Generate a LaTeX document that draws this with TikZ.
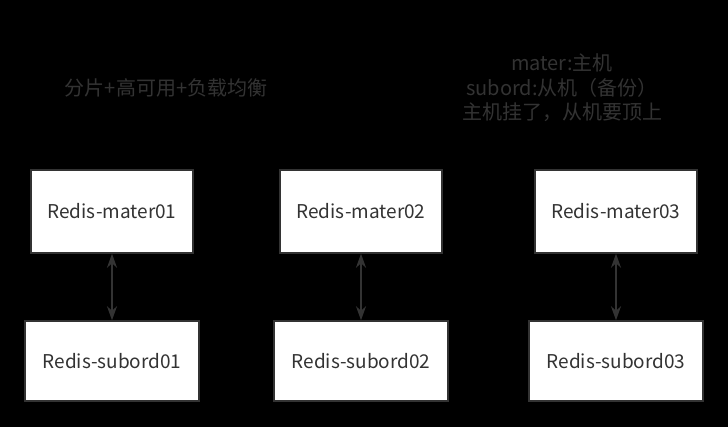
\documentclass[tikz,border=0pt]{standalone}
\usepackage{fontspec}
\setmainfont{Noto Sans CJK SC}
\usetikzlibrary{arrows.meta}
\definecolor{textgrau}{HTML}{333333}

\begin{document}
\begin{tikzpicture}[x=1pt, y=-1pt,
	box/.style={draw=textgrau, fill=white, line width=1.5pt, text=textgrau,
		font=\fontsize{19}{21}\selectfont, inner sep=0pt},
	master/.style={box, minimum width=162pt, minimum height=83pt},
	subord/.style={box, minimum width=174pt, minimum height=80pt},
	verbindung/.style={textgrau, line width=2pt,
		{Stealth[length=14pt,width=10pt]}-{Stealth[length=14pt,width=10pt]}},
	notiz/.style={text=textgrau, align=center, inner sep=0pt,
		font=\fontsize{20}{24.5}\selectfont}]
	
	% Hintergrund
	\fill[black] (0,0) rectangle (728,427);
	\useasboundingbox (0,0) rectangle (728,427);
	
	% Beschriftung
	\node[notiz] (titel) at (166,88) {分片+高可用+负载均衡};
	\node[notiz] (legende) at (562,88) {mater:主机\\subord:从机（备份）\\主机挂了，从机要顶上};
	
	% Master
	\node[master] (master01) at (112,211.5) {Redis-mater01};
	\node[master] (master02) at (361,211.5) {Redis-mater02};
	\node[master] (master03) at (616,211.5) {Redis-mater03};
	
	% Subord
	\node[subord] (subord01) at (112,361) {Redis-subord01};
	\node[subord] (subord02) at (361,361) {Redis-subord02};
	\node[subord] (subord03) at (616,361) {Redis-subord03};
	
	% Verbindungen
	\foreach \i in {01,02,03}
		\draw[verbindung] (master\i) -- (subord\i);
	
\end{tikzpicture}
\end{document}
